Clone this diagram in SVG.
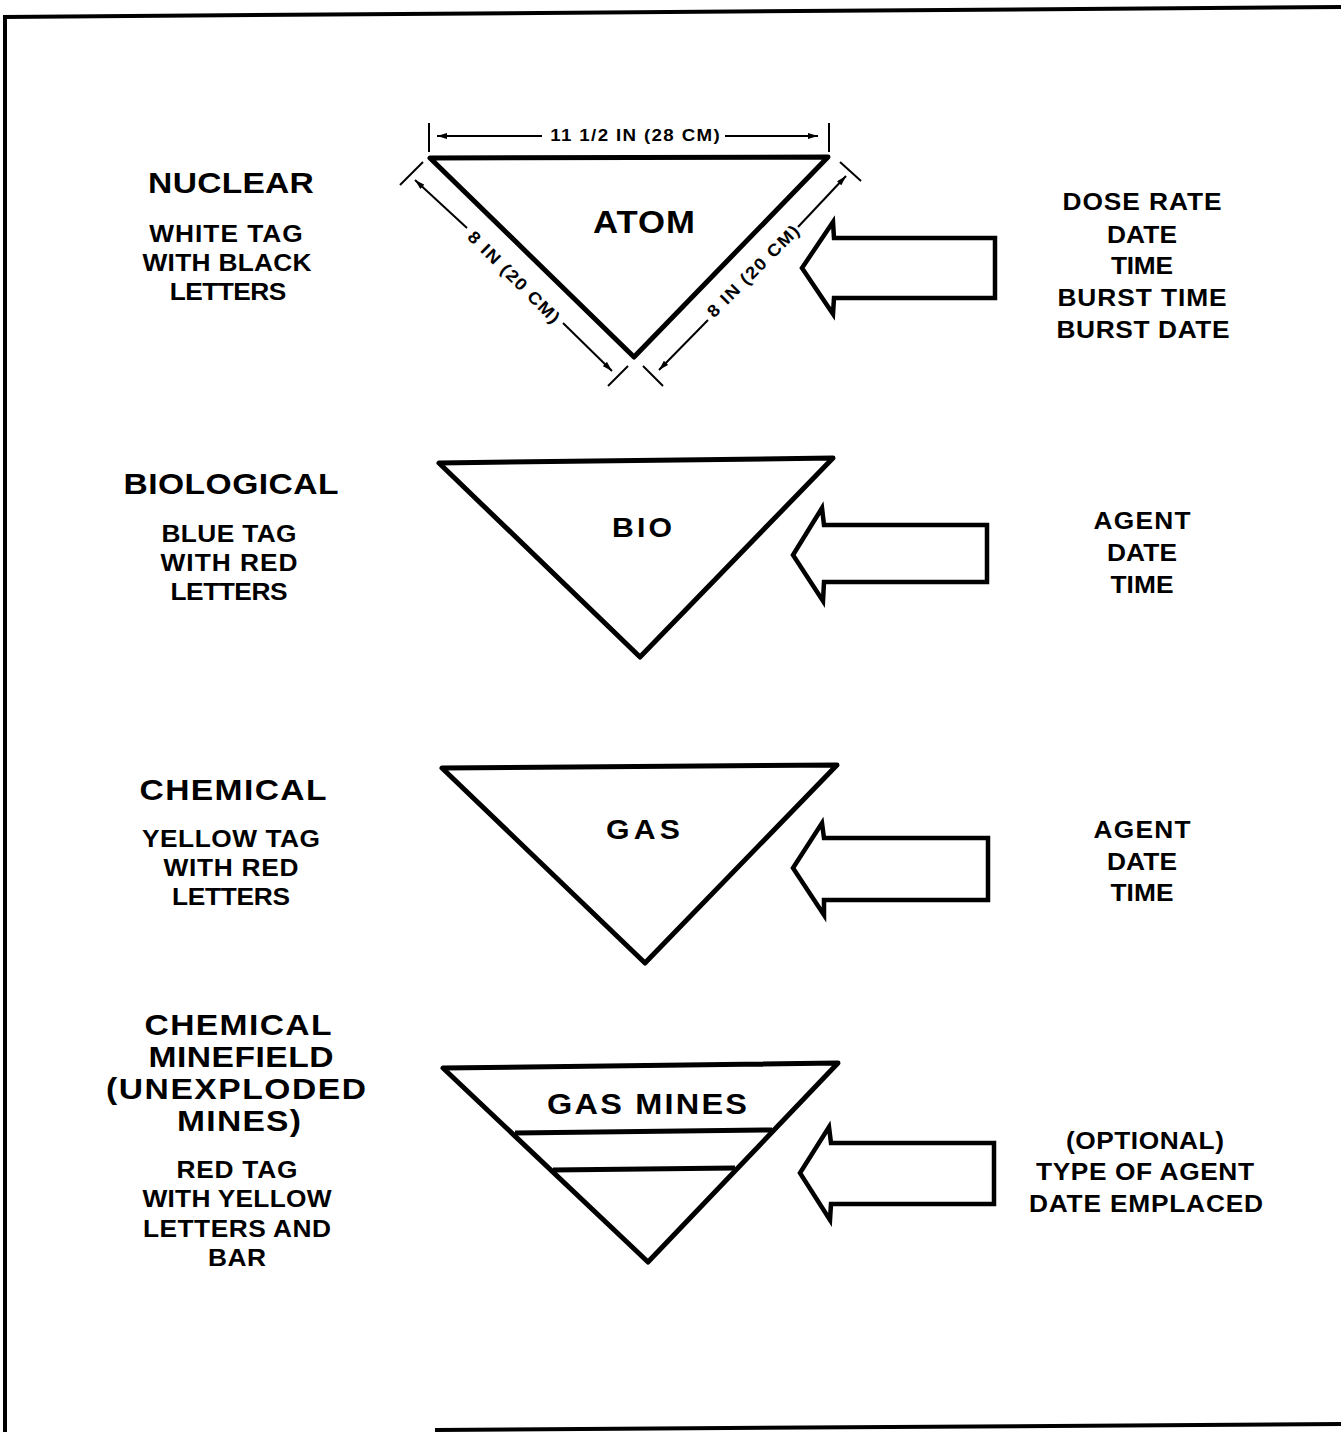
<svg xmlns="http://www.w3.org/2000/svg" width="1341" height="1432" viewBox="0 0 1341 1432">
<style>
text{font-family:"Liberation Sans",Arial,sans-serif;font-weight:bold;fill:#000;text-anchor:middle}
.h{font-size:30px}
.s{font-size:23.5px}
.d{font-size:17px}
.tri{fill:#fff;stroke:#000;stroke-width:5;stroke-linejoin:round}
.arr{fill:#fff;stroke:#000;stroke-width:4.5;stroke-linejoin:miter}
.ln{stroke:#000;stroke-width:2;fill:none}
.bd{stroke:#000;stroke-width:4;fill:none}
</style>
<defs>
<marker id="ah" viewBox="0 0 10 6" refX="10" refY="3" markerWidth="10" markerHeight="6" markerUnits="userSpaceOnUse" orient="auto">
<path d="M0,0 L10,3 L0,6 Z" fill="#000"/>
</marker>
</defs>
<rect width="1341" height="1432" fill="#fff"/>
<g id="border">
<line class="bd" x1="3" y1="17" x2="1341" y2="7"/>
<line class="bd" x1="5" y1="15" x2="5" y2="1432"/>
<line class="bd" x1="435" y1="1430" x2="1341" y2="1424"/>
</g>
<g id="nuclear-label">
<text class="h" transform="translate(231,193) scale(1.12,1)" textLength="148" lengthAdjust="spacing">NUCLEAR</text>
<text class="s" transform="translate(226,242) scale(1.12,1)" textLength="137" lengthAdjust="spacing">WHITE TAG</text>
<text class="s" transform="translate(227,271) scale(1.12,1)" textLength="151" lengthAdjust="spacing">WITH BLACK</text>
<text class="s" transform="translate(228,300) scale(1.12,1)" textLength="104" lengthAdjust="spacing">LETTERS</text>
</g>
<g id="atom">
<polygon class="tri" points="430,158 828,157 634,357"/>
<text transform="translate(644,233) scale(1.12,1)" style="font-size:31px" textLength="91" lengthAdjust="spacing">ATOM</text>
</g>
<g id="dimensions">
<line class="ln" x1="429" y1="123" x2="429" y2="152"/>
<line class="ln" x1="829" y1="123" x2="829" y2="152"/>
<line class="ln" x1="542" y1="136" x2="437" y2="136" marker-end="url(#ah)"/>
<line class="ln" x1="725" y1="136" x2="818" y2="136" marker-end="url(#ah)"/>
<text class="d" transform="translate(635,141) scale(1.1,1)" textLength="154" lengthAdjust="spacing">11 1/2 IN (28 CM)</text>
<line class="ln" x1="400" y1="185" x2="423" y2="162"/>
<line class="ln" x1="608" y1="386" x2="628" y2="366"/>
<line class="ln" x1="467" y1="228" x2="415" y2="180" marker-end="url(#ah)"/>
<line class="ln" x1="563" y1="323" x2="612" y2="371" marker-end="url(#ah)"/>
<text class="d" transform="translate(514,277) rotate(45) scale(1.1,1)" y="6" textLength="111" lengthAdjust="spacing">8 IN (20 CM)</text>
<line class="ln" x1="840" y1="162" x2="861" y2="181"/>
<line class="ln" x1="643" y1="366" x2="663" y2="386"/>
<line class="ln" x1="708" y1="320" x2="659" y2="370" marker-end="url(#ah)"/>
<line class="ln" x1="798" y1="227" x2="846" y2="176" marker-end="url(#ah)"/>
<text class="d" transform="translate(753,271) rotate(-45) scale(1.1,1)" y="6" textLength="111" lengthAdjust="spacing">8 IN (20 CM)</text>
</g>
<g id="nuclear-arrow">
<path class="arr" d="M802,268 L833,222 L834,238 L995,238 L995,298 L834,298 L833,314 Z"/>
</g>
<g id="nuclear-info">
<text class="s" transform="translate(1142,210) scale(1.12,1)" textLength="142" lengthAdjust="spacing">DOSE RATE</text>
<text class="s" transform="translate(1142,243) scale(1.12,1)" textLength="62.5" lengthAdjust="spacing">DATE</text>
<text class="s" transform="translate(1142,274) scale(1.12,1)" textLength="55.4" lengthAdjust="spacing">TIME</text>
<text class="s" transform="translate(1142,306) scale(1.12,1)" textLength="151" lengthAdjust="spacing">BURST TIME</text>
<text class="s" transform="translate(1143,338) scale(1.12,1)" textLength="154.5" lengthAdjust="spacing">BURST DATE</text>
</g>
<g id="bio-label">
<text class="h" transform="translate(231,494) scale(1.12,1)" textLength="192" lengthAdjust="spacing">BIOLOGICAL</text>
<text class="s" transform="translate(229,542) scale(1.12,1)" textLength="120.5" lengthAdjust="spacing">BLUE TAG</text>
<text class="s" transform="translate(229,571) scale(1.12,1)" textLength="122.3" lengthAdjust="spacing">WITH RED</text>
<text class="s" transform="translate(229,600) scale(1.12,1)" textLength="104.5" lengthAdjust="spacing">LETTERS</text>
</g>
<g id="bio">
<polygon class="tri" points="439,463 833,458 640,657"/>
<text transform="translate(642,537) scale(1.12,1)" style="font-size:27px" textLength="53.6" lengthAdjust="spacing">BIO</text>
</g>
<g id="bio-arrow">
<path class="arr" d="M793,555 L822,508 L824,525 L987,525 L987,582 L824,582 L823,601 Z"/>
</g>
<g id="bio-info">
<text class="s" transform="translate(1142,529) scale(1.12,1)" textLength="86.6" lengthAdjust="spacing">AGENT</text>
<text class="s" transform="translate(1142,561) scale(1.12,1)" textLength="62.5" lengthAdjust="spacing">DATE</text>
<text class="s" transform="translate(1142,593) scale(1.12,1)" textLength="56.3" lengthAdjust="spacing">TIME</text>
</g>
<g id="chem-label">
<text class="h" transform="translate(233,800) scale(1.12,1)" textLength="167" lengthAdjust="spacing">CHEMICAL</text>
<text class="s" transform="translate(231,847) scale(1.12,1)" textLength="159" lengthAdjust="spacing">YELLOW TAG</text>
<text class="s" transform="translate(231,876) scale(1.12,1)" textLength="120.5" lengthAdjust="spacing">WITH RED</text>
<text class="s" transform="translate(231,905) scale(1.12,1)" textLength="105.4" lengthAdjust="spacing">LETTERS</text>
</g>
<g id="gas">
<polygon class="tri" points="442,768 837,765 645,963"/>
<text transform="translate(643,839) scale(1.12,1)" style="font-size:27px" textLength="66" lengthAdjust="spacing">GAS</text>
</g>
<g id="gas-arrow">
<path class="arr" d="M793,868 L822,823 L824,838 L988,838 L988,900 L824,900 L824,915 Z"/>
</g>
<g id="gas-info">
<text class="s" transform="translate(1142,838) scale(1.12,1)" textLength="86.6" lengthAdjust="spacing">AGENT</text>
<text class="s" transform="translate(1142,870) scale(1.12,1)" textLength="62.5" lengthAdjust="spacing">DATE</text>
<text class="s" transform="translate(1142,901) scale(1.12,1)" textLength="56.3" lengthAdjust="spacing">TIME</text>
</g>
<g id="minefield-label">
<text class="h" transform="translate(238,1035) scale(1.12,1)" textLength="167" lengthAdjust="spacing">CHEMICAL</text>
<text class="h" transform="translate(241,1067) scale(1.12,1)" textLength="165.2" lengthAdjust="spacing">MINEFIELD</text>
<text class="h" transform="translate(236,1099) scale(1.12,1)" textLength="232" lengthAdjust="spacing">(UNEXPLODED</text>
<text class="h" transform="translate(239,1131) scale(1.12,1)" textLength="110.7" lengthAdjust="spacing">MINES)</text>
<text class="s" transform="translate(237,1178) scale(1.12,1)" textLength="108" lengthAdjust="spacing">RED TAG</text>
<text class="s" transform="translate(237,1207) scale(1.12,1)" textLength="168.8" lengthAdjust="spacing">WITH YELLOW</text>
<text class="s" transform="translate(237,1237) scale(1.12,1)" textLength="168" lengthAdjust="spacing">LETTERS AND</text>
<text class="s" transform="translate(237,1266) scale(1.12,1)" textLength="51.8" lengthAdjust="spacing">BAR</text>
</g>
<g id="gas-mines">
<polygon class="tri" points="443,1068 838,1063 648,1262"/>
<line x1="515" y1="1133" x2="772" y2="1130" stroke="#000" stroke-width="5"/>
<line x1="553" y1="1170" x2="735" y2="1168" stroke="#000" stroke-width="5"/>
<text transform="translate(647,1114) scale(1.12,1)" style="font-size:29px" textLength="178.6" lengthAdjust="spacing">GAS MINES</text>
</g>
<g id="mines-arrow">
<path class="arr" d="M800,1173 L829,1127 L831,1143 L994,1143 L994,1204 L831,1204 L830,1220 Z"/>
</g>
<g id="mines-info">
<text class="s" transform="translate(1145,1149) scale(1.12,1)" textLength="141" lengthAdjust="spacing">(OPTIONAL)</text>
<text class="s" transform="translate(1145,1180) scale(1.12,1)" textLength="194.6" lengthAdjust="spacing">TYPE OF AGENT</text>
<text class="s" transform="translate(1146,1212) scale(1.12,1)" textLength="209" lengthAdjust="spacing">DATE EMPLACED</text>
</g>
</svg>
